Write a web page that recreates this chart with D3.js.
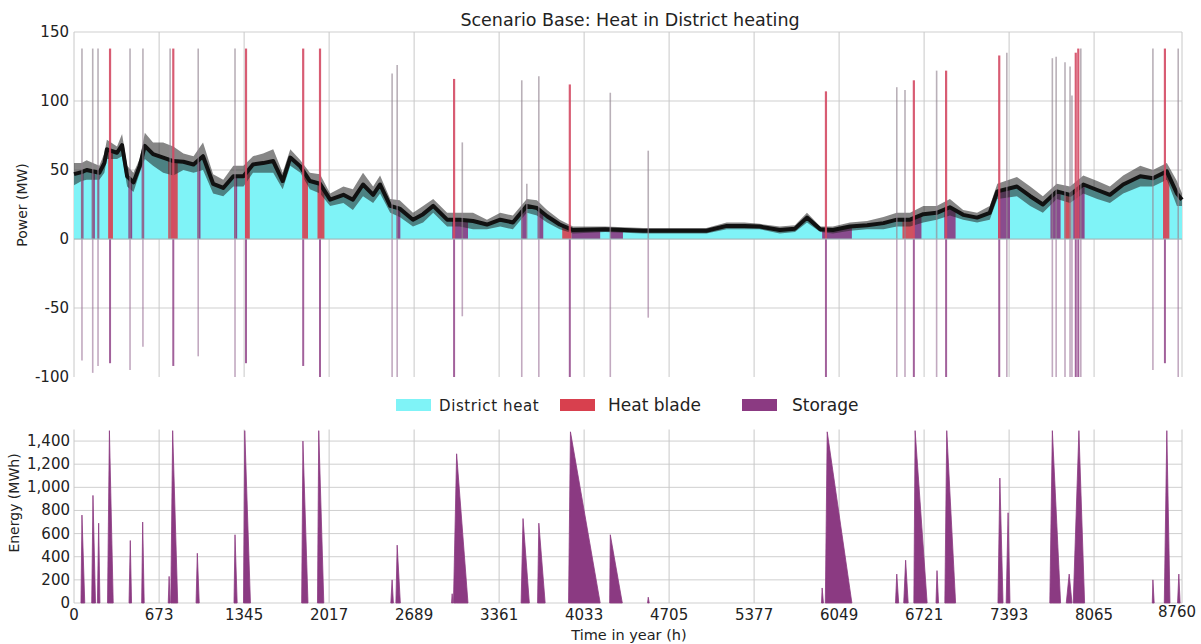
<!DOCTYPE html>
<html>
<head>
<meta charset="utf-8">
<script src="https://cdn.jsdelivr.net/npm/d3@7"></script>
<style>
body { margin: 0; background: #fff; }
text { font-family: "DejaVu Sans", sans-serif; fill: #222; }
</style>
</head>
<body>
<div id="chart"></div>
<script>
/*
 Heat in District heating, base scenario.
 Values (hours of the year).
*/

// district heat load: low / high edge of the hourly band (MW)
var heatHours = [0, 60, 100, 200, 240, 260, 340, 380, 420, 470, 520, 560, 625, 705, 785, 865, 945, 1020,
	1100, 1180, 1260, 1340, 1415, 1495, 1575, 1650, 1710, 1790, 1865, 1945, 2025, 2130, 2205, 2285,
	2365, 2420, 2500, 2575, 2680, 2760, 2840, 2950, 3050, 3155, 3265, 3370, 3470, 3580, 3660, 3740,
	3840, 3945, 4200, 4500, 4800, 5000, 5160, 5300, 5420, 5580, 5700, 5795, 5900, 6000, 6135, 6270,
	6400, 6505, 6610, 6715, 6820, 6925, 7030, 7140, 7240, 7300, 7455, 7560, 7660, 7770, 7875, 7980,
	8090, 8190, 8295, 8430, 8530, 8640, 8720, 8760];
var heatLow = [39, 42, 43, 43, 48, 58, 58, 60, 38, 34, 48, 58, 53, 48, 46, 50, 48, 50,
	33, 31, 38, 38, 48, 48, 48, 36, 53, 48, 36, 33, 24, 26, 21, 31,
	26, 33, 19, 16, 9, 12, 19, 9, 9, 7, 7, 9, 7, 19, 17, 12,
	7, 4, 5, 4, 4, 4, 7, 7, 7, 4, 5, 12, 5, 4, 6, 7,
	7, 9, 9, 12, 14, 17, 14, 12, 14, 29, 31, 24, 19, 29, 26, 33,
	29, 26, 33, 38, 38, 43, 24, 24];
var heatHigh = [55, 55, 57, 53, 62, 72, 67, 76, 53, 48, 58, 77, 70, 70, 67, 62, 60, 70,
	47, 43, 53, 53, 60, 62, 65, 48, 65, 57, 48, 47, 33, 38, 36, 48,
	38, 46, 29, 28, 19, 24, 29, 19, 19, 19, 14, 19, 17, 29, 28, 21,
	14, 9, 9, 8, 8, 8, 12, 12, 11, 9, 10, 19, 9, 9, 12, 13,
	16, 19, 19, 24, 24, 29, 21, 19, 24, 40, 45, 38, 31, 40, 38, 46,
	42, 38, 46, 53, 50, 55, 42, 33];

// heat blade / storage spikes (MW): top, bottom, 1 = heat blade colour
var spikeHours = [63, 148, 190, 285, 443, 545, 760, 785, 982, 1273, 1360, 1812, 1945, 2515, 2555,
	3005, 3070, 3540, 3580, 3675, 3920, 4240, 4540, 5945, 6505, 6570, 6640, 6820, 6895, 7315, 7375,
	7735, 7765, 7835, 7875, 7890, 7920, 7940, 7960, 8530, 8625, 8730];
var spikeUp = [138, 138, 138, 138, 138, 138, 138, 138, 138, 138, 138, 138, 138, 120, 126,
	116, 70, 115, 40, 118, 112, 106, 64, 107, 110, 108, 115, 122, 122, 133, 135,
	131, 132, 128, 125, 104, 135, 138, 138, 138, 138, 138];
var spikeDown = [-88, -97, -92, -90, -95, -78, 0, -92, -85, -100, -90, -92, -100, -100, -100,
	-100, -56, -100, 0, -100, -100, -100, -57, -100, -100, -100, -100, -100, -100, -100, -100,
	-100, -100, -100, -100, -100, -100, -100, -100, -95, -90, -100];
var spikeBlade = [0, 0, 0, 1, 0, 0, 0, 1, 0, 0, 1, 1, 1, 0, 0,
	1, 0, 0, 0, 0, 1, 0, 0, 1, 0, 0, 1, 0, 1, 1, 0,
	0, 0, 0, 0, 0, 1, 1, 0, 0, 1, 0];

// periods where the load is covered by heat blade or storage
var blockStart = [55, 140, 185, 270, 430, 535, 745, 975, 1265, 1352, 1812, 1925, 2550, 2990, 3535,
	3665, 3860, 3935, 4240, 5915, 6550, 6640, 6880, 7305, 7720, 7830, 7900, 8610];
var blockEnd = [75, 165, 200, 308, 460, 555, 820, 1000, 1290, 1390, 1850, 1980, 2580, 3115, 3580,
	3710, 3935, 4160, 4340, 6150, 6640, 6700, 6970, 7400, 7800, 7880, 7990, 8660];
var blockKind = ["storage", "storage", "storage", "blade", "storage", "storage", "blade", "storage",
	"storage", "blade", "blade", "blade", "storage", "storage", "storage", "storage", "blade",
	"storage", "storage", "storage", "blade", "storage", "storage", "storage", "storage", "blade",
	"storage", "blade"];

// storage content (MWh): start, hour of top, top, end of each cycle
var stoStart = [55, 140, 185, 265, 435, 535, 745, 765, 965, 1265, 1340, 1800, 1925, 2505, 2545,
	2985, 3000, 3535, 3665, 3910, 4235, 4535, 5910, 5940, 6495, 6560, 6640, 6815, 6885, 7305,
	7370, 7715, 7845, 7900, 8525, 8620, 8725];
var stoPeakAt = [63, 150, 195, 280, 445, 543, 752, 780, 975, 1273, 1350, 1810, 1935, 2515, 2555,
	2990, 3025, 3550, 3675, 3925, 4240, 4540, 5915, 5955, 6505, 6575, 6650, 6823, 6900, 7320,
	7385, 7735, 7868, 7945, 8530, 8640, 8735];
var stoPeak = [760, 930, 690, 1490, 540, 700, 230, 1490, 430, 590, 1490, 1400, 1490, 200, 500,
	80, 1290, 730, 690, 1480, 590, 50, 130, 1480, 250, 370, 1490, 280, 1490, 1080,
	780, 1490, 250, 1490, 200, 1490, 250];
var stoEnd = [85, 170, 205, 310, 455, 555, 760, 820, 990, 1290, 1395, 1850, 1975, 2525, 2580,
	2995, 3115, 3600, 3725, 4160, 4335, 4548, 5925, 6150, 6520, 6595, 6745, 6835, 6970, 7345,
	7400, 7800, 7890, 7990, 8540, 8665, 8745];

var timeTicks = [0, 673, 1345, 2017, 2689, 3361, 4033, 4705, 5377, 6049, 6721, 7393, 8065, 8760];
var powerTicks = [150, 100, 50, 0, -50, -100];
var energyTicks = [0, 200, 400, 600, 800, 1000, 1200, 1400];
var legendNames = ["District heat", "Heat blade", "Storage"];

var colors = { heat: "#7ff3f7", blade: "#d8404e", storage: "#8b3a82" };

var width = 1201, height = 644;
var svg = d3.select("#chart").append("svg")
	.attr("width", width)
	.attr("height", height);

var x = d3.scaleLinear().domain([0, 8760]).range([74, 1182]);
var yP = d3.scaleLinear().domain([-100, 150]).range([377, 32]);
var yE = d3.scaleLinear().domain([0, 1500]).range([603, 429.5]);

var heat = heatHours.map(function(h, i) {
	return { h: h, lo: heatLow[i], hi: heatHigh[i] };
});
function mid(d) { return (d.lo + d.hi) / 2; }

/* ---------- top panel: power ---------- */
var powerG = svg.append("g").attr("class", "power");

// grid
powerG.append("g").selectAll("line.hg")
	.data(powerTicks.filter(function(d) { return d > -100; }))
	.enter().append("line")
	.attr("x1", x(0)).attr("x2", x(8760))
	.attr("y1", function(d) { return yP(d); }).attr("y2", function(d) { return yP(d); })
	.attr("stroke", "#cfcfcf").attr("stroke-width", 1);
powerG.append("g").selectAll("line.vg")
	.data(timeTicks)
	.enter().append("line")
	.attr("x1", function(d) { return x(d); }).attr("x2", function(d) { return x(d); })
	.attr("y1", yP(150)).attr("y2", yP(-100))
	.attr("stroke", "#c8c8c8").attr("stroke-width", 1);

// tick labels
powerG.append("g").selectAll("text")
	.data(powerTicks)
	.enter().append("text")
	.attr("x", 69)
	.attr("y", function(d) { return yP(d) + 5; })
	.attr("text-anchor", "end")
	.attr("font-size", "15px")
	.text(function(d) { return d; });

var heatArea = d3.area()
	.x(function(d) { return x(d.h); })
	.y0(yP(0))
	.y1(function(d) { return yP(mid(d)); });

powerG.append("path")
	.datum(heat)
	.attr("fill", colors.heat)
	.attr("d", heatArea);

// blade / storage periods: same area, clipped to the period
var defs = svg.append("defs");
blockStart.forEach(function(s, i) {
	defs.append("clipPath").attr("id", "blk" + i)
		.append("rect")
		.attr("x", x(s)).attr("y", 0)
		.attr("width", Math.max(1.5, x(blockEnd[i]) - x(s)))
		.attr("height", height);
	powerG.append("path")
		.datum(heat)
		.attr("clip-path", "url(#blk" + i + ")")
		.attr("fill", colors[blockKind[i]])
		.attr("opacity", 0.9)
		.attr("d", heatArea);
});

// the hourly load band: grey spread plus a dark core
powerG.append("path")
	.datum(heat)
	.attr("fill", "#222")
	.attr("fill-opacity", 0.55)
	.attr("d", d3.area()
		.x(function(d) { return x(d.h); })
		.y0(function(d) { return yP(d.lo); })
		.y1(function(d) { return yP(d.hi); }));
powerG.append("path")
	.datum(heat)
	.attr("fill", "none")
	.attr("stroke", "#111")
	.attr("stroke-width", 4)
	.attr("stroke-linejoin", "round")
	.attr("d", d3.line()
		.x(function(d) { return x(d.h); })
		.y(function(d) { return yP(mid(d)); }));

// spikes
var spikes = spikeHours.map(function(h, i) {
	return { h: h, up: spikeUp[i], down: spikeDown[i], blade: spikeBlade[i] };
});
powerG.append("g").selectAll("line.dn")
	.data(spikes.filter(function(d) { return d.down < 0; }))
	.enter().append("line")
	.attr("x1", function(d) { return x(d.h); }).attr("x2", function(d) { return x(d.h); })
	.attr("y1", yP(0)).attr("y2", function(d) { return yP(d.down); })
	.attr("stroke", function(d) { return d.blade ? "#8b3a82" : "#9a7096"; })
	.attr("stroke-opacity", function(d) { return d.blade ? 0.8 : 0.6; })
	.attr("stroke-width", function(d) { return d.blade ? 2 : 1.6; });
powerG.append("g").selectAll("line.up")
	.data(spikes)
	.enter().append("line")
	.attr("x1", function(d) { return x(d.h); }).attr("x2", function(d) { return x(d.h); })
	.attr("y1", yP(0)).attr("y2", function(d) { return yP(d.up); })
	.attr("stroke", function(d) { return d.blade ? "#d44a64" : "#948592"; })
	.attr("stroke-opacity", function(d) { return d.blade ? 0.9 : 0.65; })
	.attr("stroke-width", function(d) { return d.blade ? 2.2 : 1.6; });

// zero line
powerG.append("line")
	.attr("x1", x(0)).attr("x2", x(8760))
	.attr("y1", yP(0)).attr("y2", yP(0))
	.attr("stroke", "#9fb8bb").attr("stroke-width", 1);

powerG.append("text")
	.attr("x", 630).attr("y", 26)
	.attr("text-anchor", "middle")
	.attr("font-size", "17.5px")
	.attr("fill", "#333")
	.text("Scenario Base: Heat in District heating");

powerG.append("text")
	.attr("transform", "translate(27,205) rotate(-90)")
	.attr("text-anchor", "middle")
	.attr("font-size", "14px")
	.text("Power (MW)");

/* ---------- legend ---------- */
var legX = [396, 560, 742];
var legTx = [439, 608, 792];
var legSize = ["15px", "17px", "17px"];
var legKeys = ["heat", "blade", "storage"];
var legend = svg.append("g").attr("class", "legend");
legendNames.forEach(function(name, i) {
	legend.append("rect")
		.attr("x", legX[i]).attr("y", 399)
		.attr("width", 35).attr("height", 12)
		.attr("fill", colors[legKeys[i]]);
	legend.append("text")
		.attr("x", legTx[i]).attr("y", 411)
		.attr("font-size", legSize[i])
		.attr("letter-spacing", i == 0 ? "0.6px" : "0px")
		.attr("fill", i == 0 ? "#555" : "#222")
		.text(name);
});

/* ---------- bottom panel: storage energy ---------- */
var energyG = svg.append("g").attr("class", "energy");

energyG.append("g").selectAll("line.hg")
	.data(energyTicks)
	.enter().append("line")
	.attr("x1", x(0)).attr("x2", x(8760))
	.attr("y1", function(d) { return yE(d); }).attr("y2", function(d) { return yE(d); })
	.attr("stroke", "#cfcfcf").attr("stroke-width", 1);
energyG.append("g").selectAll("line.vg")
	.data(timeTicks)
	.enter().append("line")
	.attr("x1", function(d) { return x(d); }).attr("x2", function(d) { return x(d); })
	.attr("y1", yE(1500)).attr("y2", yE(0))
	.attr("stroke", "#c8c8c8").attr("stroke-width", 1);

var stoData = stoStart.map(function(s, i) {
	return [[s, 0], [stoPeakAt[i], stoPeak[i]], [stoEnd[i], 0]];
});
energyG.append("g").selectAll("path")
	.data(stoData)
	.enter().append("path")
	.attr("fill", colors.storage)
	.attr("stroke", colors.storage)
	.attr("stroke-width", 0.8)
	.attr("d", d3.area()
		.x(function(d) { return x(d[0]); })
		.y0(yE(0))
		.y1(function(d) { return yE(d[1]); }));

energyG.append("g").selectAll("text")
	.data(energyTicks)
	.enter().append("text")
	.attr("x", 70)
	.attr("y", function(d) { return yE(d) + 5; })
	.attr("text-anchor", "end")
	.attr("font-size", "15px")
	.text(d3.format(","));

energyG.append("g").selectAll("text")
	.data(timeTicks)
	.enter().append("text")
	.attr("x", function(d) { return x(d) - (d == 8760 ? 5 : 0); })
	.attr("y", function(d) { return d == 8760 ? 617 : 620; })
	.attr("text-anchor", "middle")
	.attr("font-size", "15px")
	.text(function(d) { return d; });

energyG.append("text")
	.attr("x", 629).attr("y", 640)
	.attr("text-anchor", "middle")
	.attr("font-size", "14.5px")
	.text("Time in year (h)");

energyG.append("text")
	.attr("transform", "translate(19,503) rotate(-90)")
	.attr("text-anchor", "middle")
	.attr("font-size", "14px")
	.text("Energy (MWh)");
</script>
</body>
</html>
